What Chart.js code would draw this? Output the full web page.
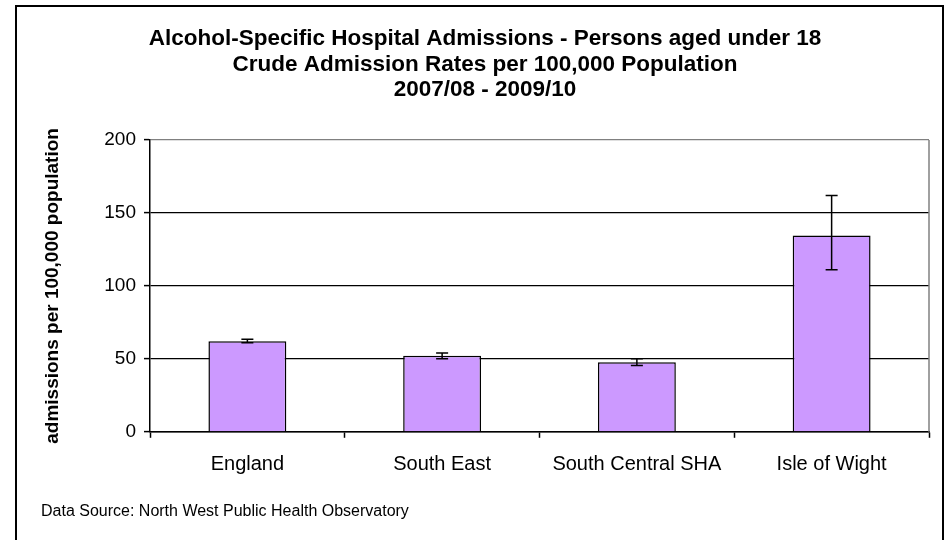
<!DOCTYPE html>
<html>
<head>
<meta charset="utf-8">
<script src="https://cdn.jsdelivr.net/npm/chart.js@4.4.1/dist/chart.umd.min.js"></script>
<style>
  html, body { margin: 0; padding: 0; background: #fff; }
  #wrap { position: relative; width: 946px; height: 540px; overflow: hidden; }
  #frame { position: absolute; left: 15px; top: 5px; width: 925px; height: 560px; border: 2px solid #000; pointer-events: none; }
</style>
</head>
<body>
<div id="wrap">
  <canvas id="admissionsChart" width="946" height="540"></canvas>
  <div id="frame"></div>
</div>
<script>
const categories = ['England', 'South East', 'South Central SHA', 'Isle of Wight'];
const rates = [62, 52.2, 47.7, 134.5];
const lowerCI = [61, 50, 45.5, 111];
const upperCI = [63.5, 54, 50, 162];
const yTicks = [0, 50, 100, 150, 200];
const titleLines = [
    'Alcohol-Specific Hospital Admissions - Persons aged under 18',
    'Crude Admission Rates per 100,000 Population',
    '2007/08 - 2009/10'
];
const yAxisTitle = 'admissions per 100,000 population';
const sourceNote = 'Data Source: North West Public Health Observatory';

const FONT = "'Liberation Sans', Arial, sans-serif";

// error bars, drawn from lowerCI / upperCI through the y scale
const errorBars = {
    id: 'errorBars',
    afterDatasetsDraw(chart) {
        const ctx = chart.ctx;
        const y = chart.scales.y;
        const meta = chart.getDatasetMeta(0);
        ctx.save();
        ctx.strokeStyle = '#000';
        ctx.lineWidth = 1.5;
        meta.data.forEach((bar, i) => {
            const yLo = y.getPixelForValue(lowerCI[i]);
            const yHi = y.getPixelForValue(upperCI[i]);
            ctx.beginPath();
            ctx.moveTo(bar.x, yLo);
            ctx.lineTo(bar.x, yHi);
            ctx.moveTo(bar.x - 6, yLo);
            ctx.lineTo(bar.x + 6, yLo);
            ctx.moveTo(bar.x - 6, yHi);
            ctx.lineTo(bar.x + 6, yHi);
            ctx.stroke();
        });
        ctx.restore();
    }
};

// grey right edge of the plot area
const plotEdge = {
    id: 'plotEdge',
    beforeDatasetsDraw(chart) {
        const { ctx, chartArea } = chart;
        ctx.save();
        ctx.strokeStyle = '#808080';
        ctx.lineWidth = 1.5;
        ctx.beginPath();
        ctx.moveTo(chartArea.right, chartArea.top);
        ctx.lineTo(chartArea.right, chartArea.bottom);
        ctx.stroke();
        ctx.restore();
    }
};

const ctx = document.getElementById('admissionsChart').getContext('2d');
new Chart(ctx, {
    type: 'bar',
    data: {
        labels: categories,
        datasets: [{
            label: 'Crude rate',
            data: rates,
            backgroundColor: '#CC99FF',
            borderColor: '#000',
            borderWidth: 1.5,
            barPercentage: 0.4,
            categoryPercentage: 1
        }]
    },
    options: {
        responsive: false,
        animation: false,
        layout: {
            padding: { left: 41, right: 17, top: 0, bottom: 0 }
        },
        plugins: {
            legend: { display: false },
            tooltip: { enabled: false },
            title: {
                display: true,
                text: titleLines,
                color: '#000',
                font: { family: FONT, size: 22.5, weight: 'bold', lineHeight: 1.15 },
                padding: { top: 25.5, bottom: 36.9 }
            },
            subtitle: {
                display: true,
                position: 'bottom',
                align: 'start',
                text: sourceNote,
                color: '#000',
                font: { family: FONT, size: 16, lineHeight: 1.2 },
                padding: { top: 0, bottom: 19 }
            }
        },
        scales: {
            x: {
                offset: true,
                grid: {
                    offset: true,
                    drawOnChartArea: false,
                    drawTicks: true,
                    tickLength: 6,
                    tickColor: '#000',
                    tickWidth: 1.5
                },
                border: { color: '#000', width: 1.5 },
                ticks: {
                    color: '#000',
                    font: { family: FONT, size: 20 },
                    padding: 15
                },
                afterFit(scale) { scale.height = 70; }
            },
            y: {
                min: 0,
                max: 200,
                afterBuildTicks(scale) {
                    scale.ticks = yTicks.map(v => ({ value: v }));
                },
                grid: {
                    color: c => (c.tick && c.tick.value === 200 ? '#808080' : '#000'),
                    lineWidth: 1.2,
                    tickLength: 6,
                    tickColor: '#000',
                    tickWidth: 1.5
                },
                border: { color: '#000', width: 1.5 },
                ticks: {
                    color: '#000',
                    font: { family: FONT, size: 19 },
                    padding: 8
                },
                title: {
                    display: true,
                    text: yAxisTitle,
                    color: '#000',
                    font: { family: FONT, size: 19, weight: 'bold', lineHeight: 1.2 },
                    padding: 0
                },
                afterFit(scale) { scale.width = 109; }
            }
        }
    },
    plugins: [plotEdge, errorBars]
});
</script>
</body>
</html>
